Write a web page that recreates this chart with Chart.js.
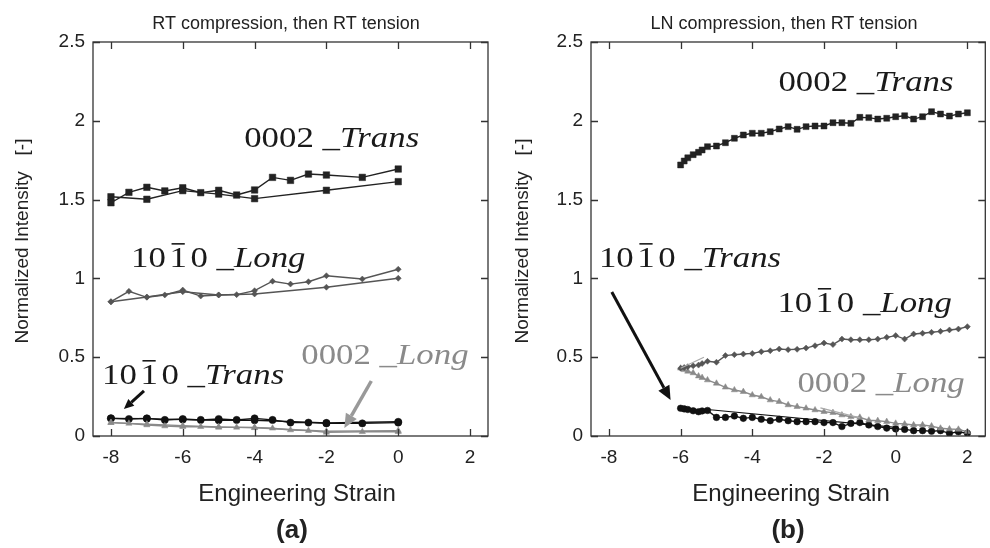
<!DOCTYPE html>
<html>
<head>
<meta charset="utf-8">
<script src="https://cdn.jsdelivr.net/npm/chart.js@4.4.0/dist/chart.umd.min.js"></script>
<style>
  html, body { margin: 0; padding: 0; background: #fff; }
  #wrap { position: relative; width: 990px; height: 548px; }
  .panel { position: absolute; top: 0; width: 495px; height: 548px; }
</style>
</head>
<body>
<div id="wrap">
  <div class="panel" style="left:0"><canvas id="chartA" width="495" height="548"></canvas></div>
  <div class="panel" style="left:495px"><canvas id="chartB" width="495" height="548"></canvas></div>
</div>
<script>
// axis ticks shared by both panels
const xTicks = [-8, -6, -4, -2, 0, 2];
const yTicks = [0, 0.5, 1, 1.5, 2, 2.5];

// (a) RT compression, then RT tension
const strainA_comp = [0, -2, -4, -5, -6, -7, -8];
const strainA_tens = [-8, -7.5, -7, -6.5, -6, -5.5, -5, -4.5, -4, -3.5, -3, -2.5, -2, -1, 0];

const a0002Trans_comp = [1.614, 1.559, 1.506, 1.535, 1.557, 1.502, 1.518];
const a0002Trans_tens = [1.480, 1.546, 1.578, 1.555, 1.575, 1.544, 1.559, 1.529, 1.561, 1.641, 1.622, 1.662, 1.656, 1.641, 1.694];
const a1010Long_comp = [1.001, 0.944, 0.901, 0.895, 0.915, 0.882, 0.852];
const a1010Long_tens = [0.852, 0.918, 0.880, 0.895, 0.926, 0.888, 0.895, 0.897, 0.922, 0.982, 0.964, 0.979, 1.017, 0.996, 1.058];
const a1010Trans_comp = [0.090, 0.083, 0.100, 0.100, 0.104, 0.110, 0.112];
const a1010Trans_tens = [0.112, 0.108, 0.112, 0.102, 0.108, 0.102, 0.108, 0.102, 0.112, 0.102, 0.085, 0.085, 0.080, 0.080, 0.085];
const a0002Long_comp = [0.034, 0.030, 0.052, 0.058, 0.066, 0.075, 0.085];
const a0002Long_tens = [0.085, 0.080, 0.070, 0.063, 0.059, 0.059, 0.055, 0.055, 0.055, 0.049, 0.038, 0.034, 0.023, 0.027, 0.027];

// (b) LN compression, then RT tension
const strainB = [-6, -5.9, -5.8, -5.65, -5.5, -5.4, -5.25, -5, -4.75, -4.5, -4.25, -4, -3.75, -3.5, -3.25, -3,
  -2.75, -2.5, -2.25, -2, -1.75, -1.5, -1.25, -1, -0.75, -0.5, -0.25, 0, 0.25, 0.5, 0.75, 1, 1.25, 1.5, 1.75, 2];

const b0002Trans = [1.720, 1.745, 1.765, 1.785, 1.800, 1.815, 1.836, 1.840, 1.861, 1.889, 1.910, 1.921, 1.921, 1.931, 1.948, 1.963,
  1.946, 1.963, 1.967, 1.967, 1.988, 1.988, 1.984, 2.022, 2.020, 2.011, 2.016, 2.026, 2.032, 2.011, 2.026, 2.058, 2.043, 2.030, 2.043, 2.051];
const b1010Long = [0.430, 0.435, 0.440, 0.445, 0.450, 0.460, 0.474, 0.468, 0.510, 0.516, 0.520, 0.524, 0.535, 0.541, 0.552, 0.548,
  0.550, 0.558, 0.573, 0.590, 0.580, 0.615, 0.611, 0.611, 0.611, 0.615, 0.626, 0.637, 0.615, 0.647, 0.652, 0.658, 0.664, 0.673, 0.679, 0.694];
const b0002Long = [0.430, 0.420, 0.410, 0.400, 0.380, 0.370, 0.355, 0.334, 0.309, 0.292, 0.281, 0.260, 0.249, 0.228, 0.218, 0.197,
  0.186, 0.176, 0.165, 0.154, 0.148, 0.133, 0.122, 0.118, 0.100, 0.097, 0.091, 0.080, 0.076, 0.070, 0.070, 0.063, 0.049, 0.044, 0.042, 0.027];
const b1010Trans = [0.176, 0.172, 0.168, 0.160, 0.154, 0.159, 0.162, 0.118, 0.118, 0.127, 0.112, 0.118, 0.106, 0.097, 0.106, 0.097,
  0.091, 0.091, 0.091, 0.085, 0.085, 0.060, 0.080, 0.085, 0.070, 0.060, 0.050, 0.045, 0.042, 0.034, 0.034, 0.030, 0.034, 0.017, 0.027, 0.017];

// short unloading segments in (b)
const b1010Trans_compX = [0, -5.25];
const b1010Trans_compY = [0.055, 0.168];
const b1010Long_compX = [-6, -5.35];
const b1010Long_compY = [0.430, 0.500];
const b0002Long_compX = [-2.1, -1.0];
const b0002Long_compY = [0.178, 0.115];

const SANS = "'Liberation Sans', Arial, sans-serif";
const SERIF = "'Liberation Serif', 'Times New Roman', serif";
const C_SQ = '#222', C_DI = '#555', C_CI = '#111', C_TR = '#8a8a8a';

function series(xs, ys, color, style, radius, width = 1.4) {
  return {
    data: xs.map((x, i) => ({ x, y: ys[i] })),
    showLine: true,
    borderColor: color,
    backgroundColor: color,
    borderWidth: width,
    pointStyle: style,
    pointRadius: radius,
    pointHoverRadius: radius,
    pointBorderWidth: 0.5
  };
}

// labels like 0002_Trans / 10(-1)0_Long, upright Miller index + italic direction
const hkl0002 = dir => [{ t: '0002' }, { t: ' _' }, { t: dir, it: true }];
const hkl1010 = dir => [{ t: '10' }, { t: '1', bar: true, pad: 3 }, { t: '0', pad: 3 }, { t: ' _' }, { t: dir, it: true }];

function drawLabel(ctx, px, py, parts, color) {
  const size = 29;
  ctx.save();
  ctx.translate(px, py);
  ctx.scale(1.2, 1);
  ctx.fillStyle = color;
  ctx.strokeStyle = color;
  ctx.textBaseline = 'alphabetic';
  ctx.textAlign = 'left';
  let cx = 0;
  for (const p of parts) {
    cx += p.pad || 0;
    ctx.font = `${p.it ? 'italic ' : ''}${size}px ${SERIF}`;
    ctx.fillText(p.t, cx, 0);
    const w = ctx.measureText(p.t).width;
    if (p.bar) {
      ctx.lineWidth = 1.6;
      ctx.beginPath();
      ctx.moveTo(cx + w * 0.12, -size * 0.8);
      ctx.lineTo(cx + w * 0.88, -size * 0.8);
      ctx.stroke();
    }
    cx += w;
  }
  ctx.restore();
}

function drawArrow(ctx, x0, y0, x1, y1, color, lw, head) {
  const ang = Math.atan2(y1 - y0, x1 - x0);
  const bx = x1 - head * Math.cos(ang), by = y1 - head * Math.sin(ang);
  ctx.save();
  ctx.strokeStyle = color;
  ctx.fillStyle = color;
  ctx.lineWidth = lw;
  ctx.beginPath();
  ctx.moveTo(x0, y0);
  ctx.lineTo(bx, by);
  ctx.stroke();
  const hw = head * 0.45;
  ctx.beginPath();
  ctx.moveTo(x1, y1);
  ctx.lineTo(bx + hw * Math.sin(ang), by - hw * Math.cos(ang));
  ctx.lineTo(bx - hw * Math.sin(ang), by + hw * Math.cos(ang));
  ctx.closePath();
  ctx.fill();
  ctx.restore();
}

// box with inward ticks, titles and annotations
const framePlugin = {
  id: 'frame',
  afterDraw(chart, args, o) {
    const { ctx, chartArea: a, scales: { x, y } } = chart;
    ctx.save();
    ctx.strokeStyle = '#333';
    ctx.lineWidth = 1.3;
    ctx.strokeRect(a.left, a.top, a.right - a.left, a.bottom - a.top);
    ctx.beginPath();
    xTicks.forEach(v => {
      const px = Math.round(x.getPixelForValue(v)) + 0.5;
      ctx.moveTo(px, a.bottom); ctx.lineTo(px, a.bottom - 7);
      ctx.moveTo(px, a.top); ctx.lineTo(px, a.top + 7);
    });
    yTicks.forEach(v => {
      const py = Math.round(y.getPixelForValue(v)) + 0.5;
      ctx.moveTo(a.left, py); ctx.lineTo(a.left + 7, py);
      ctx.moveTo(a.right, py); ctx.lineTo(a.right - 7, py);
    });
    ctx.stroke();

    ctx.fillStyle = '#222';
    ctx.textAlign = 'center';
    ctx.textBaseline = 'middle';
    ctx.font = `18px ${SANS}`;
    ctx.fillText(o.title, o.titleX, 24);
    ctx.font = `24px ${SANS}`;
    ctx.fillText('Engineering Strain', o.xTitleX, 494);
    ctx.font = `bold 26px ${SANS}`;
    ctx.fillText(o.tag, o.tagX, 531);
    ctx.save();
    ctx.translate(o.yTitleX, 241);
    ctx.rotate(-Math.PI / 2);
    ctx.font = `19px ${SANS}`;
    ctx.fillText('Normalized Intensity   [-]', 0, 0);
    ctx.restore();

    for (const ar of o.arrows) {
      drawArrow(ctx, x.getPixelForValue(ar.from[0]), y.getPixelForValue(ar.from[1]),
        x.getPixelForValue(ar.to[0]), y.getPixelForValue(ar.to[1]), ar.color, ar.lw, ar.head);
    }
    for (const lb of o.labels) {
      drawLabel(ctx, x.getPixelForValue(lb.at[0]), y.getPixelForValue(lb.at[1]), lb.parts, lb.color);
    }
    ctx.restore();
  }
};

function makePanel(id, datasets, deco, leftW, rightPad) {
  const tickFont = { family: SANS, size: 19 };
  return new Chart(document.getElementById(id), {
    type: 'scatter',
    data: { datasets },
    options: {
      responsive: false,
      animation: false,
      layout: { padding: { left: 0, top: 42, right: rightPad, bottom: 0 } },
      plugins: { legend: { display: false }, tooltip: { enabled: false }, frame: deco },
      scales: {
        x: {
          type: 'linear', min: -8.5, max: 2.5,
          grid: { display: false, drawTicks: false }, border: { display: false },
          afterBuildTicks: s => { s.ticks = xTicks.map(v => ({ value: v })); },
          afterFit: s => { s.height = 112; },
          ticks: { font: tickFont, color: '#222', padding: 10, maxRotation: 0, autoSkip: false, callback: v => String(v) }
        },
        y: {
          type: 'linear', min: 0, max: 2.5,
          grid: { display: false, drawTicks: false }, border: { display: false },
          afterBuildTicks: s => { s.ticks = yTicks.map(v => ({ value: v })); },
          afterFit: s => { s.width = leftW; },
          ticks: { font: tickFont, color: '#222', padding: 8, autoSkip: false, callback: v => String(v) }
        }
      }
    },
    plugins: [framePlugin]
  });
}

makePanel('chartA', [
  series(strainA_comp, a0002Long_comp, C_TR, 'triangle', 3.6),
  series(strainA_tens, a0002Long_tens, C_TR, 'triangle', 3.6),
  series(strainA_comp, a1010Trans_comp, C_CI, 'circle', 3.6),
  series(strainA_tens, a1010Trans_tens, C_CI, 'circle', 3.6),
  series(strainA_comp, a1010Long_comp, C_DI, 'rectRot', 3),
  series(strainA_tens, a1010Long_tens, C_DI, 'rectRot', 3),
  series(strainA_comp, a0002Trans_comp, C_SQ, 'rect', 4.6),
  series(strainA_tens, a0002Trans_tens, C_SQ, 'rect', 4.6)
], {
  title: 'RT compression, then RT tension', titleX: 286, xTitleX: 297, tagX: 292, yTitleX: 23,
  tag: '(a)',
  labels: [
    { at: [-4.29, 1.834], parts: hkl0002('Trans'), color: '#1a1a1a' },
    { at: [-7.44, 1.072], parts: hkl1010('Long'), color: '#1a1a1a' },
    { at: [-8.25, 0.330], parts: hkl1010('Trans'), color: '#1a1a1a' },
    { at: [-2.70, 0.457], parts: hkl0002('Long'), color: '#8a8a8a' }
  ],
  arrows: [
    { from: [-7.08, 0.286], to: [-7.64, 0.171], color: '#111', lw: 3, head: 10 },
    { from: [-0.75, 0.349], to: [-1.50, 0.051], color: '#999', lw: 3.5, head: 14 }
  ]
}, 93, 7);

makePanel('chartB', [
  series(b0002Long_compX, b0002Long_compY, '#aaa', 'triangle', 0, 1.2),
  series(b1010Long_compX, b1010Long_compY, '#aaa', 'rectRot', 0, 1.2),
  series(b1010Trans_compX, b1010Trans_compY, C_CI, 'circle', 0, 1.2),
  series(strainB, b1010Long, C_DI, 'rectRot', 3),
  series(strainB, b0002Long, C_TR, 'triangle', 3.6),
  series(strainB, b1010Trans, C_CI, 'circle', 3.3),
  series(strainB, b0002Trans, C_SQ, 'rect', 4.2)
], {
  title: 'LN compression, then RT tension', titleX: 289, xTitleX: 296, tagX: 293, yTitleX: 28,
  tag: '(b)',
  labels: [
    { at: [-3.27, 2.189], parts: hkl0002('Trans'), color: '#1a1a1a' },
    { at: [-8.28, 1.072], parts: hkl1010('Trans'), color: '#1a1a1a' },
    { at: [-3.30, 0.787], parts: hkl1010('Long'), color: '#1a1a1a' },
    { at: [-2.74, 0.279], parts: hkl0002('Long'), color: '#8a8a8a' }
  ],
  arrows: [
    { from: [-7.92, 0.914], to: [-6.28, 0.228], color: '#111', lw: 3, head: 14 }
  ]
}, 96, 4);
</script>
</body>
</html>
